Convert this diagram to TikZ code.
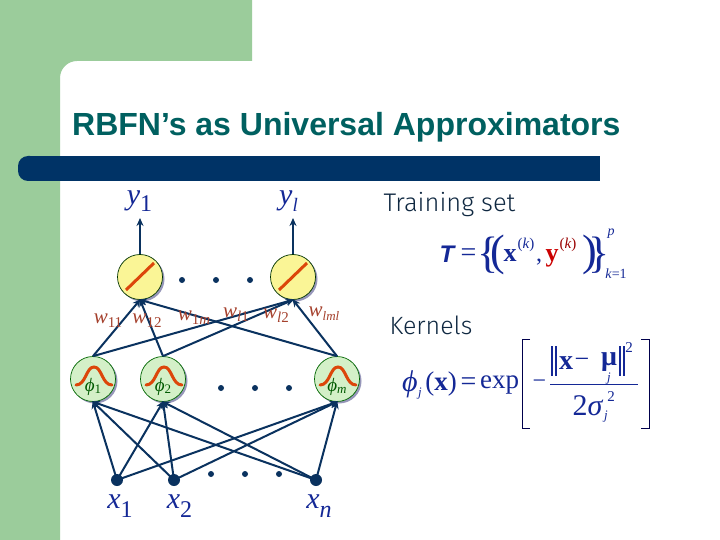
\documentclass[tikz,border=0pt]{standalone}
\usepackage{fontspec}
\setmainfont{Liberation Serif}
\newfontfamily\titlefont{Liberation Sans}
\newfontfamily\handfont{Fira Sans Light}
\usetikzlibrary{arrows.meta}
\definecolor{slidegreen}{RGB}{155,204,155}
\definecolor{barblue}{RGB}{0,51,102}
\definecolor{titleteal}{RGB}{0,96,96}
\definecolor{eqblue}{RGB}{20,40,150}
\definecolor{wbrown}{RGB}{165,65,45}
\definecolor{orangeline}{RGB}{220,70,10}
\definecolor{netblue}{RGB}{10,50,95}
\definecolor{textdark}{RGB}{15,40,65}
\definecolor{kerfill}{RGB}{212,240,200}
\definecolor{outfill}{RGB}{250,245,150}
\definecolor{shadc}{RGB}{150,150,185}
\newcommand{\fsz}[1]{\fontsize{#1}{#1}\selectfont}
\newcommand{\lab}[5]{{\fsz{#3}\itshape #1}\raisebox{-#5pt}{\fsz{#4}#2}}
\tikzset{
  wire/.style={netblue,line width=2pt,-{Stealth[length=8pt,width=7pt]},shorten >=-1pt},
  outc/.style={circle,draw=black!80!green,line width=0.7pt,fill=outfill,minimum size=45pt,inner sep=0pt},
  kerc/.style={circle,draw=black!60!green,line width=0.7pt,fill=kerfill,minimum size=45pt,inner sep=0pt},
  inc/.style={circle,fill=netblue,minimum size=12pt,inner sep=0pt},
  shad/.style={circle,fill=shadc,minimum size=45pt,inner sep=0pt},
  dotc/.style={circle,fill=netblue,minimum size=6pt,inner sep=0pt},
  slash/.style={orangeline,line width=3pt},
  bell/.style={orangeline,line width=3pt,line cap=round},
  yl/.style={text=eqblue,inner sep=0pt,anchor=base},
  wl/.style={text=wbrown,inner sep=0pt,anchor=center},
  eq/.style={text=eqblue,inner sep=0pt,anchor=center},
  brk/.style={black!70!blue,line width=1pt}
}
\begin{document}
\begin{tikzpicture}[x=1pt,y=-1pt]
\useasboundingbox (0,0) rectangle (720,540);
\fill[white] (0,0) rectangle (720,540);
\fill[slidegreen] (0,0) -- (252,0) -- (252,61) -- (77,61) arc[start angle=90,end angle=180,x radius=17,y radius=-17] -- (60,540) -- (0,540) -- cycle;
\fill[barblue,rounded corners=10pt] (18,156) rectangle (40,181);
\fill[barblue] (30,156) rectangle (600,181);
\node[anchor=base west,inner sep=0pt,text=titleteal] (title) at (72,135.5) {\titlefont\bfseries\fsz{32}RBFN’s as Universal Approximators};
% shadows
\node[shad] at (142,279) {};
\node[shad] at (295,279) {};
\node[shad] at (95,381) {};
\node[shad] at (165,381) {};
\node[shad] at (339,381) {};
% nodes
\node[outc] (o1) at (140,277) {};
\node[outc] (ol) at (293,277) {};
\node[kerc] (p1) at (93,379) {};
\node[kerc] (p2) at (163,379) {};
\node[kerc] (pm) at (337,379) {};
\node[inc] (x1) at (117,480) {};
\node[inc] (x2) at (174,480) {};
\node[inc] (xn) at (316,480) {};
\coordinate (t1) at (140,219);
\coordinate (tl) at (293,219);
% connectors
\draw[wire] (o1.north) -- (t1);
\draw[wire] (ol.north) -- (tl);
\foreach \a in {p1,p2,pm}{
  \draw[wire] (\a.north) -- (o1.south);
  \draw[wire] (\a.north) -- (ol.south);
}
\foreach \a in {x1,x2,xn}{
  \draw[wire] (\a.center) -- (p1.south);
  \draw[wire] (\a.center) -- (p2.south);
  \draw[wire] (\a.center) -- (pm.south);
}
% slashes
\draw[slash] (126,290) -- (154,263);
\draw[slash] (279,290) -- (307,263);
% bells
\foreach \c/\s in {p1/1,p2/2,pm/\textit{m}}{
  \draw[bell] ([shift={(-17,6)}]\c.center) .. controls ([shift={(-7,6)}]\c.center) and ([shift={(-7,-12)}]\c.center) .. ([shift={(1,-12)}]\c.center) .. controls ([shift={(9,-12)}]\c.center) and ([shift={(9,6)}]\c.center) .. ([shift={(19,6)}]\c.center);
  \node[text=green!35!black,inner sep=0pt] at ([shift={(0,8)}]\c.center) {\lab{ϕ}{\s}{19}{13}{2}};
}
% dots
\foreach \i/\x/\y in {a/182/280,b/216/280,c/250/280,d/221/388,e/255/388,f/289/388,g/211/474,h/245/474,k/279/474}{
  \node[dotc] (dot\i) at (\x,\y) {};
}
% labels
\node[yl] (ly1) at (139.5,205) {\lab{y}{1}{30}{24}{6}};
\node[yl] (lyl) at (288.5,205) {\lab{y}{\textit{l}}{30}{19}{6}};
\node[yl] (lx1) at (120,508) {\lab{x}{1}{30}{24}{9}};
\node[yl] (lx2) at (179.5,508) {\lab{x}{2}{30}{24}{9}};
\node[yl] (lxn) at (319,508) {\lab{x}{\textit{n}}{30}{24}{9}};
\node[wl] (w1) at (108,321) {\lab{w}{11}{21}{15}{4}};
\node[wl] (w2) at (147,321) {\lab{w}{12}{21}{15}{4}};
\node[wl] (w3) at (194,318) {\lab{w}{1\textit{m}}{21}{15}{4}};
\node[wl] (w4) at (236,315) {\lab{w}{\textit{l}1}{21}{15}{4}};
\node[wl] (w5) at (276,316) {\lab{w}{\textit{l}2}{21}{15}{4}};
\node[wl] (w6) at (324,314) {\lab{w}{\textit{lml}}{21}{13}{4}};
% right side text
\node[anchor=center,inner sep=0pt,text=textdark] (train) at (449.5,205) {\handfont\fsz{25.5}Training set};
\node[anchor=center,inner sep=0pt,text=textdark] (kern) at (431,325) {\handfont\fsz{25}Kernels};
% training formula
\node[eq] (T) at (447,254) {\titlefont\bfseries\itshape\fsz{24}T};
\node[eq] (teq) at (468.5,255) {\fsz{28}=};
\node[eq] (lb) at (488,255) {\fsz{44}\{};
\node[eq] (lp) at (497.5,255) {\fsz{44}(};
\node[eq] (bx) at (510,256) {\bfseries\fsz{26}x};
\node[eq] (kx) at (526,245) {\fsz{15}(\textit{k})};
\node[eq] (cm) at (539,262) {\fsz{24},};
\node[eq,text=red!80!black] (by) at (552,258) {\bfseries\fsz{26}y};
\node[eq,text=red!60!black] (ky) at (568,245) {\fsz{15}(\textit{k})};
\node[eq] (rp) at (590,255) {\fsz{44})};
\node[eq] (rb) at (599,255) {\fsz{44}\}};
\node[eq] (pp) at (611,234) {\itshape\fsz{14}p};
\node[eq] (kk) at (616,274) {\fsz{14}\textit{k}=1};
% kernel formula
\node[eq] (ph) at (410,384) {\itshape\fsz{30}ϕ};
\node[eq] (js) at (420,394) {\itshape\fsz{13}j};
\node[eq] (arg) at (441,384) {\fsz{27}(\textbf{x})};
\node[eq] (keq) at (468.5,384) {\fsz{28}=};
\node[eq] (ex) at (499.5,385) {\fsz{27}exp};
\node[eq] (mi) at (539.5,384) {\fsz{24}−};
\node[eq] (nx) at (566,363) {\bfseries\fsz{28}x};
\node[eq] (nm) at (582,363) {\fsz{26}−};
\node[eq] (mu) at (609,362) {\bfseries\fsz{28}μ};
\node[eq] (mj) at (609,379) {\itshape\fsz{13}j};
\node[eq] (sq) at (629,348) {\fsz{15}2};
\node[eq] (den) at (588,406) {\fsz{30}2\textit{σ}};
\node[eq] (d2) at (611,397) {\fsz{15}2};
\node[eq] (dj) at (606,417) {\itshape\fsz{13}j};
\draw[eqblue,line width=1pt] (550,384) -- (638,384);
\draw[eqblue,line width=1.2pt] (552,346) -- (552,376) (556,346) -- (556,376) (620,346) -- (620,376) (624,346) -- (624,376);
\draw[brk] (530,339) -- (522,339) -- (522,428) -- (530,428);
\draw[brk] (641,339) -- (649,339) -- (649,428) -- (641,428);
\end{tikzpicture}
\end{document}
